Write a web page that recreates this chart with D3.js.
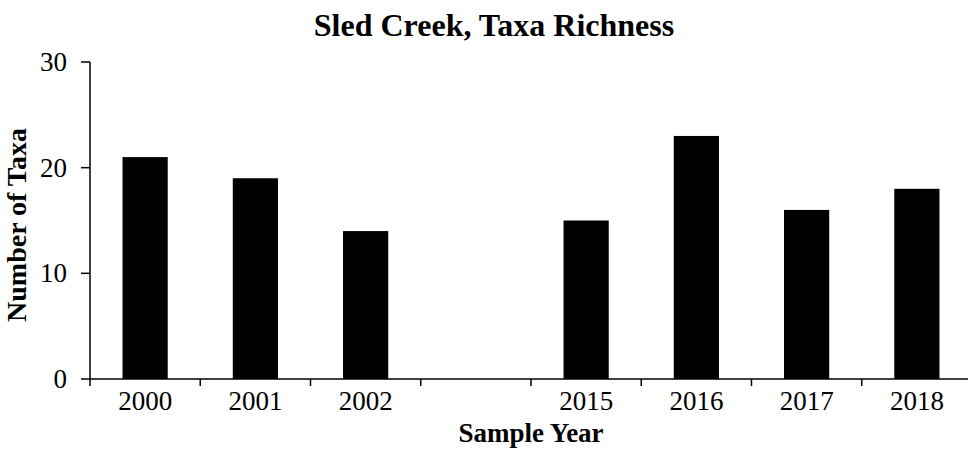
<!DOCTYPE html>
<html><head><meta charset="utf-8">
<script src="https://cdn.jsdelivr.net/npm/d3@7"></script>
<style>body{margin:0;background:#fff}svg{display:block}text{font-family:"Liberation Serif","Times New Roman",serif}</style>
</head><body>
<svg id="c" width="968" height="450"></svg>
<script>
const categories = ["2000","2001","2002","","2015","2016","2017","2018"];
const values = [21, 19, 14, null, 15, 23, 16, 18];
const yTicks = [0, 10, 20, 30];
const title = "Sled Creek, Taxa Richness";
const xTitle = "Sample Year";
const yTitle = "Number of Taxa";

(function(){
const svg = d3.select("#c");
const pL = 90, pR = 972, pT = 62, pB = 379;
const idx = categories.map((d,i)=>i);
const x = d3.scaleBand().domain(idx).range([pL, pR]).paddingInner(0.59).paddingOuter(0.295);
const xb = d3.scaleBand().domain(idx).range([pL, pR]);
const y = d3.scaleLinear().domain([0, 30]).range([pB, pT]);

svg.append("g").selectAll("rect").data(values.map((v,i)=>({v,i})).filter(d=>d.v!=null)).join("rect")
  .attr("x", d=>x(d.i)).attr("width", x.bandwidth())
  .attr("y", d=>y(d.v)).attr("height", d=>y(0)-y(d.v)).attr("fill","#000");

const ya = svg.append("g");
ya.append("line").attr("x1",pL).attr("x2",pL).attr("y1",y(0)).attr("y2",y(30)).attr("stroke","#000").attr("stroke-width",1.5);
ya.selectAll("line.t").data(yTicks).join("line").attr("class","t")
  .attr("x1",pL-9).attr("x2",pL).attr("y1",d=>y(d)).attr("y2",d=>y(d)).attr("stroke","#000").attr("stroke-width",1.5);
ya.selectAll("text").data(yTicks).join("text")
  .attr("x",pL-23).attr("y",d=>y(d)+9).attr("text-anchor","end").attr("font-size",27).text(d=>d);

const xa = svg.append("g");
xa.append("line").attr("x1",pL).attr("x2",pR).attr("y1",pB).attr("y2",pB).attr("stroke","#000").attr("stroke-width",1.5);
xa.selectAll("line.t").data(idx).join("line").attr("class","t")
  .attr("x1",d=>xb(d)).attr("x2",d=>xb(d)).attr("y1",pB).attr("y2",pB+7).attr("stroke","#000").attr("stroke-width",1.5);
xa.selectAll("text").data(categories).join("text")
  .attr("x",(d,i)=>xb(i)+xb.bandwidth()/2).attr("y",410).attr("text-anchor","middle").attr("font-size",27).text(d=>d);

svg.append("text").attr("x",494).attr("y",36).attr("text-anchor","middle").attr("font-size",32).attr("font-weight","bold").text(title);
svg.append("text").attr("x",531).attr("y",442).attr("text-anchor","middle").attr("font-size",27).attr("font-weight","bold").text(xTitle);
svg.append("text").attr("transform","translate(26,225) rotate(-90)").attr("text-anchor","middle").attr("font-size",28).attr("font-weight","bold").text(yTitle);
})();
</script>
</body></html>
